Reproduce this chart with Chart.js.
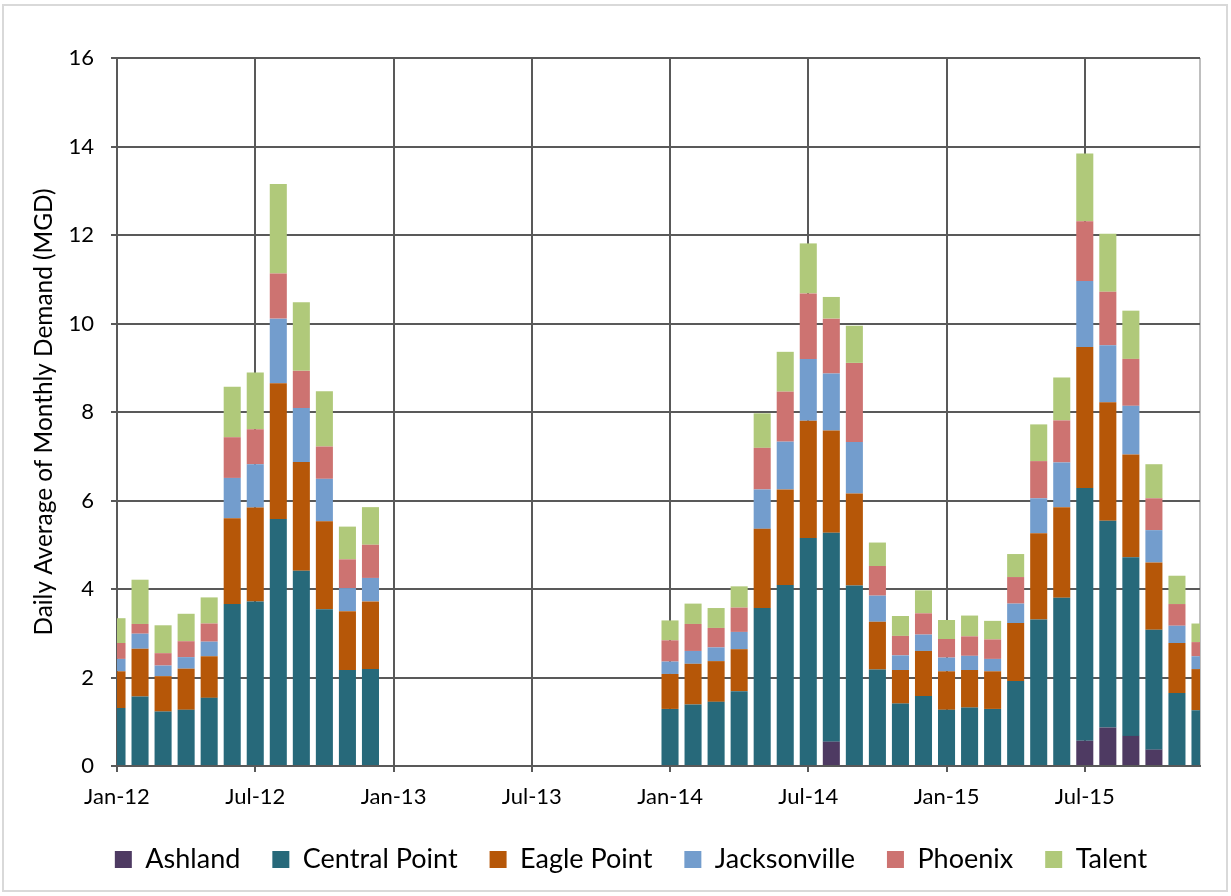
<!DOCTYPE html>
<html lang="en">
<head>
<meta charset="UTF-8">
<title>Daily Average of Monthly Demand</title>
<script src="https://cdn.jsdelivr.net/npm/chart.js"></script>
<style>
  html, body { margin: 0; padding: 0; background: #fff; }
  #wrap { width: 1231px; height: 896px; position: relative; }
</style>
</head>
<body>
<div id="wrap"><canvas id="demandChart"></canvas></div>
<script>
// months Jan-12 .. Dec-15, ticks shown every 6 months
const monthNames = ['Jan', 'Feb', 'Mar', 'Apr', 'May', 'Jun', 'Jul', 'Aug', 'Sep', 'Oct', 'Nov', 'Dec'];
const years = ['12', '13', '14', '15'];
const labels = [];
years.forEach(y => monthNames.forEach(m => labels.push(m + '-' + y)));

// 2013 has no data
const none = [null, null, null, null, null, null, null, null, null, null, null, null];

const ashland2014 = [null, null, null, null, null, null, null, 0.55, null, null, null, null];
const ashland2015 = [null, null, null, null, null, null, 0.57, 0.87, 0.68, 0.37, null, null];

const central2012 = [1.31, 1.57, 1.23, 1.27, 1.54, 3.66, 3.72, 5.58, 4.41, 3.54, 2.17, 2.19];
const central2014 = [1.29, 1.39, 1.45, 1.69, 3.57, 4.09, 5.15, 4.72, 4.08, 2.18, 1.41, 1.58];
const central2015 = [1.27, 1.32, 1.29, 1.92, 3.31, 3.80, 5.71, 4.67, 4.04, 2.71, 1.65, 1.26];

const eagle2012 = [0.83, 1.08, 0.80, 0.93, 0.94, 1.94, 2.12, 3.07, 2.46, 1.99, 1.33, 1.53];
const eagle2014 = [0.79, 0.92, 0.92, 0.95, 1.79, 2.16, 2.65, 2.31, 2.08, 1.08, 0.76, 1.02];
const eagle2015 = [0.87, 0.85, 0.85, 1.31, 1.95, 2.05, 3.19, 2.68, 2.32, 1.52, 1.13, 0.93];

const jack2012 = [0.28, 0.34, 0.24, 0.26, 0.33, 0.91, 0.98, 1.46, 1.22, 0.96, 0.52, 0.53];
const jack2014 = [0.28, 0.29, 0.31, 0.39, 0.89, 1.08, 1.40, 1.29, 1.16, 0.59, 0.33, 0.37];
const jack2015 = [0.31, 0.32, 0.28, 0.44, 0.79, 1.01, 1.49, 1.29, 1.10, 0.73, 0.39, 0.29];

const phoenix2012 = [0.36, 0.22, 0.28, 0.36, 0.41, 0.92, 0.79, 1.02, 0.84, 0.73, 0.65, 0.75];
const phoenix2014 = [0.48, 0.61, 0.44, 0.55, 0.94, 1.13, 1.48, 1.24, 1.79, 0.67, 0.44, 0.48];
const phoenix2015 = [0.42, 0.44, 0.44, 0.60, 0.84, 0.95, 1.35, 1.21, 1.06, 0.72, 0.49, 0.32];

const talent2012 = [0.56, 1.00, 0.63, 0.62, 0.59, 1.14, 1.28, 2.02, 1.55, 1.25, 0.74, 0.85];
const talent2014 = [0.45, 0.46, 0.45, 0.48, 0.78, 0.90, 1.13, 0.49, 0.84, 0.53, 0.45, 0.52];
const talent2015 = [0.43, 0.47, 0.42, 0.52, 0.83, 0.97, 1.53, 1.31, 1.09, 0.77, 0.64, 0.42];

const ashland = [...none, ...none, ...ashland2014, ...ashland2015];
const centralPoint = [...central2012, ...none, ...central2014, ...central2015];
const eaglePoint = [...eagle2012, ...none, ...eagle2014, ...eagle2015];
const jacksonville = [...jack2012, ...none, ...jack2014, ...jack2015];
const phoenix = [...phoenix2012, ...none, ...phoenix2014, ...phoenix2015];
const talent = [...talent2012, ...none, ...talent2014, ...talent2015];

const gridDark = '#595959';
const font = 'Lato';

// light frame round the whole chart
const framePlugin = {
  id: 'frame',
  beforeDraw(chart) {
    const c = chart.ctx;
    c.save();
    c.strokeStyle = '#d9d9d9';
    c.lineWidth = 2;
    c.strokeRect(3, 5, 1224, 886);
    c.restore();
  }
};

// push legend a bit right, like the original
const legendShift = {
  id: 'legendShift',
  afterLayout(chart) {
    chart.legend.left += 31;
    chart.legend.right += 31;
  }
};

new Chart(document.getElementById('demandChart'), {
  type: 'bar',
  data: {
    labels: labels,
    datasets: [
      { label: 'Ashland', data: ashland, backgroundColor: '#4e3a62' },
      { label: 'Central Point', data: centralPoint, backgroundColor: '#27697a' },
      { label: 'Eagle Point', data: eaglePoint, backgroundColor: '#b65708' },
      { label: 'Jacksonville', data: jacksonville, backgroundColor: '#739dcd' },
      { label: 'Phoenix', data: phoenix, backgroundColor: '#cd7371' },
      { label: 'Talent', data: talent, backgroundColor: '#b0c97a' }
    ]
  },
  options: {
    responsive: true,
    maintainAspectRatio: false,
    animation: false,
    layout: { padding: { top: 58, right: 31, bottom: 13, left: 0 } },
    datasets: {
      bar: { clip: 0, categoryPercentage: 1, barPercentage: 0.74, borderWidth: 0 }
    },
    plugins: {
      legend: {
        position: 'bottom',
        labels: {
          boxWidth: 17,
          boxHeight: 17,
          padding: 32,
          color: '#000',
          font: { family: font, size: 27 }
        }
      },
      tooltip: { enabled: false }
    },
    scales: {
      x: {
        stacked: true,
        offset: false,
        grid: {
          offset: false,
          lineWidth: 2,
          tickLength: 6,
          color: ctx => ctx.index % 6 === 0 ? gridDark : (ctx.index === 47 ? '#bfbfbf' : 'rgba(0,0,0,0)'),
          tickColor: ctx => ctx.index % 6 === 0 ? gridDark : 'rgba(0,0,0,0)'
        },
        border: { color: gridDark, width: 2 },
        ticks: {
          autoSkip: false,
          maxRotation: 0,
          minRotation: 0,
          padding: 12,
          color: '#000',
          font: { family: font, size: 22 },
          callback: function (v, i) { return i % 6 === 0 ? this.getLabelForValue(v) : ''; }
        },
        afterFit(scale) { scale.height = 48; }
      },
      y: {
        stacked: true,
        min: 0,
        max: 16,
        grid: { color: gridDark, lineWidth: 2, tickLength: 6 },
        border: { color: gridDark, width: 2 },
        ticks: {
          stepSize: 2,
          padding: 17,
          color: '#000',
          font: { family: font, size: 22 }
        },
        title: {
          display: true,
          text: 'Daily Average of Monthly Demand (MGD)',
          color: '#000',
          font: { family: font, size: 24.4 },
          padding: { top: 30, bottom: 0 }
        },
        afterFit(scale) { scale.width = 117; }
      }
    }
  },
  plugins: [framePlugin, legendShift]
});
</script>
</body>
</html>
